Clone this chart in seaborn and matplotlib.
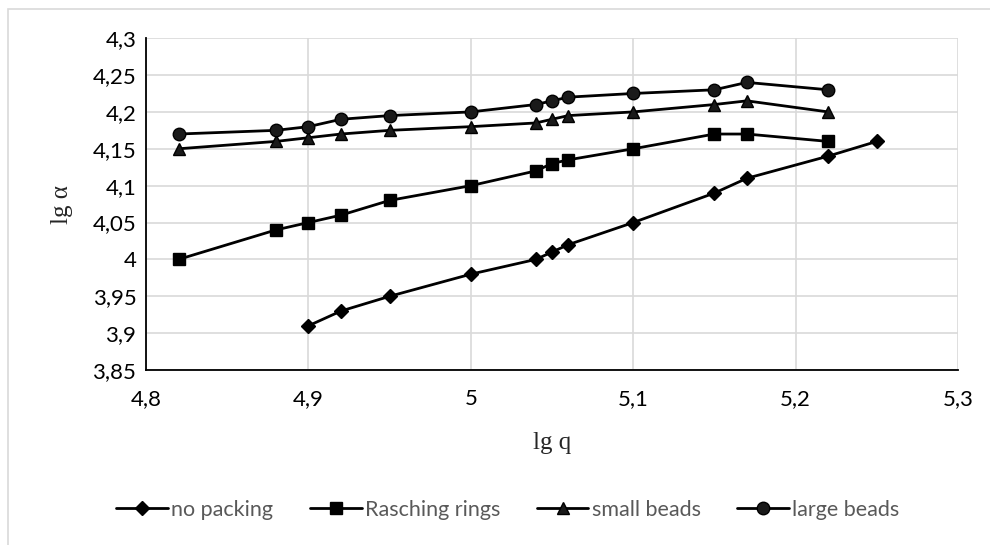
import matplotlib
matplotlib.use("Agg")
import matplotlib.pyplot as plt
import matplotlib.ticker as mticker
import seaborn as sns
import pandas as pd
from matplotlib.patches import Rectangle

sns.set_style("white")
plt.rcParams['font.family'] = ['Lato', 'DejaVu Sans']

# data
x_no = [4.90, 4.92, 4.95, 5.00, 5.04, 5.05, 5.06, 5.10, 5.15, 5.17, 5.22, 5.25]
y_no = [3.91, 3.93, 3.95, 3.98, 4.00, 4.01, 4.02, 4.05, 4.09, 4.11, 4.14, 4.16]

x_beads = [4.82, 4.88, 4.90, 4.92, 4.95, 5.00, 5.04, 5.05, 5.06, 5.10, 5.15, 5.17, 5.22]
y_rasch = [4.00, 4.04, 4.05, 4.06, 4.08, 4.10, 4.12, 4.13, 4.135, 4.15, 4.17, 4.17, 4.16]
y_small = [4.15, 4.16, 4.165, 4.17, 4.175, 4.18, 4.185, 4.19, 4.195, 4.20, 4.21, 4.215, 4.20]
y_large = [4.17, 4.175, 4.18, 4.19, 4.195, 4.20, 4.21, 4.215, 4.22, 4.225, 4.23, 4.24, 4.23]

names = ["no packing", "Rasching rings", "small beads", "large beads"]
series = [(x_no, y_no), (x_beads, y_rasch), (x_beads, y_small), (x_beads, y_large)]
markers = ["D", "s", "^", "o"]
msizes = [7, 8.5, 8.5, 9]
faces = ["black", "black", "#1a1a1a", "#1a1a1a"]

fig, ax = plt.subplots(figsize=(9.9, 5.45), dpi=100)
fig.subplots_adjust(left=0.1475, right=0.9677, bottom=0.321, top=0.930)

for name, (xs, ys), m, ms, fc in zip(names, series, markers, msizes, faces):
    df = pd.DataFrame({"x": xs, "y": ys})
    sns.lineplot(data=df, x="x", y="y", ax=ax, color="black", linewidth=2,
                 marker=m, markersize=ms, markerfacecolor=fc,
                 markeredgecolor="black", markeredgewidth=1, label=name,
                 sort=False)

ax.set_xlim(4.8, 5.3)
ax.set_ylim(3.85, 4.3)
ax.xaxis.set_major_locator(mticker.MultipleLocator(0.1))
ax.yaxis.set_major_locator(mticker.MultipleLocator(0.05))
fmt = mticker.FuncFormatter(lambda v, p: ("%g" % round(v, 3)).replace(".", ","))
ax.xaxis.set_major_formatter(fmt)
ax.yaxis.set_major_formatter(fmt)
ax.tick_params(axis="both", labelsize=16, length=0, colors="black")
ax.tick_params(axis="x", pad=14)
ax.tick_params(axis="y", pad=7)
ax.grid(True, color="#d9d9d9", linewidth=1.2)
ax.set_axisbelow(True)
for s in ["top", "right"]:
    ax.spines[s].set_visible(False)
for s in ["left", "bottom"]:
    ax.spines[s].set_color("black")
    ax.spines[s].set_linewidth(1.3)

ax.set_xlabel("lg q", family=["Liberation Serif"], fontsize=18, labelpad=16)
ax.set_ylabel("lg α", family=["Liberation Serif"], fontsize=18, labelpad=14)

ax.get_legend().remove()
h, l = ax.get_legend_handles_labels()
fig.legend(h, l, loc="center", bbox_to_anchor=(0.513, 0.065), ncol=4,
           frameon=False, fontsize=15.5, labelcolor="#595959",
           handlelength=2.4, handletextpad=0.15, columnspacing=1.7)

fig.patches.append(Rectangle((0.008, -0.1), 1.2, 1.083, transform=fig.transFigure,
                             fill=False, edgecolor="#d9d9d9", linewidth=1.2))

fig.savefig("out.png", dpi=100)
